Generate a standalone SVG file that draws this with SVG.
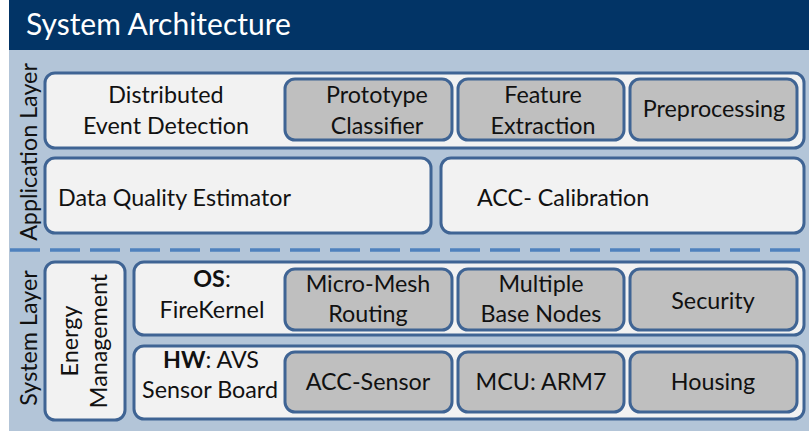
<svg xmlns="http://www.w3.org/2000/svg" width="809" height="431" viewBox="0 0 809 431">
<style>
text{font-family:Lato,"Open Sans","Liberation Sans",sans-serif;font-size:23.3px;fill:#111;}
.t{text-anchor:middle;}
.panel{fill:#F2F2F2;stroke:#3F6494;stroke-width:3;}
.mod{fill:#BFBFBF;stroke:#3F6494;stroke-width:3;}
.title{font-size:30px;fill:#fff;}
.b{font-weight:bold;}
</style>
<rect x="0" y="0" width="809" height="431" fill="#ffffff"/>
<rect x="9" y="50" width="800" height="381" fill="#B3C5D8"/>
<rect x="9" y="0" width="800" height="50" fill="#023466"/>
<text class="title" x="26" y="35">System Architecture</text>
<g id="layer-labels">
<text class="t" transform="translate(37,152) rotate(-90)">Application Layer</text>
<text class="t" transform="translate(37,338) rotate(-90)">System Layer</text>
</g>
<g id="separator">
<line x1="10" y1="250" x2="809" y2="250" stroke="#4F81BD" stroke-width="3.5" stroke-dasharray="30 10"/>
</g>
<g id="app-top">
<rect class="panel" x="45" y="73" width="759" height="75" rx="10"/>
<text class="t" x="166" y="103">Distributed</text>
<text class="t" x="166" y="134">Event Detection</text>
</g>
<g id="prototype-classifier">
<rect class="mod" x="285" y="79" width="167" height="61" rx="10"/>
<text class="t" x="377" y="103">Prototype</text>
<text class="t" x="377" y="134">Classifier</text>
</g>
<g id="feature-extraction">
<rect class="mod" x="458" y="79" width="166" height="61" rx="10"/>
<text class="t" x="543" y="103">Feature</text>
<text class="t" x="543" y="134">Extraction</text>
</g>
<g id="preprocessing">
<rect class="mod" x="630" y="79" width="167" height="61" rx="10"/>
<text class="t" x="714" y="117">Preprocessing</text>
</g>
<g id="data-quality">
<rect class="panel" x="45" y="158" width="386" height="75" rx="10"/>
<text x="58" y="206">Data Quality Estimator</text>
</g>
<g id="acc-calibration">
<rect class="panel" x="441" y="158" width="363" height="75" rx="10"/>
<text x="477" y="206">ACC- Calibration</text>
</g>
<g id="energy-management">
<rect class="panel" x="45" y="262" width="80" height="158" rx="10"/>
<text class="t" transform="translate(78,341) rotate(-90)">Energy</text>
<text class="t" transform="translate(107,341) rotate(-90)">Management</text>
</g>
<g id="os">
<rect class="panel" x="134" y="262" width="670" height="73" rx="10"/>
<text class="t" x="212" y="287"><tspan class="b">OS</tspan>:</text>
<text class="t" x="212" y="318">FireKernel</text>
</g>
<g id="micro-mesh">
<rect class="mod" x="285" y="269" width="167" height="61" rx="10"/>
<text class="t" x="368" y="292">Micro-Mesh</text>
<text class="t" x="368" y="322">Routing</text>
</g>
<g id="multiple-base-nodes">
<rect class="mod" x="458" y="269" width="166" height="61" rx="10"/>
<text class="t" x="541" y="292">Multiple</text>
<text class="t" x="541" y="322">Base Nodes</text>
</g>
<g id="security">
<rect class="mod" x="630" y="269" width="167" height="61" rx="10"/>
<text class="t" x="713" y="309">Security</text>
</g>
<g id="hw">
<rect class="panel" x="134" y="346" width="670" height="73" rx="10"/>
<text class="t" x="211" y="368"><tspan class="b">HW</tspan>: AVS</text>
<text class="t" x="210" y="398">Sensor Board</text>
</g>
<g id="acc-sensor">
<rect class="mod" x="285" y="352" width="167" height="60" rx="10"/>
<text class="t" x="368" y="390">ACC-Sensor</text>
</g>
<g id="mcu">
<rect class="mod" x="458" y="352" width="166" height="60" rx="10"/>
<text class="t" x="541" y="390">MCU: ARM7</text>
</g>
<g id="housing">
<rect class="mod" x="630" y="352" width="167" height="60" rx="10"/>
<text class="t" x="713" y="390">Housing</text>
</g>
<g id="connectors"></g>
</svg>
